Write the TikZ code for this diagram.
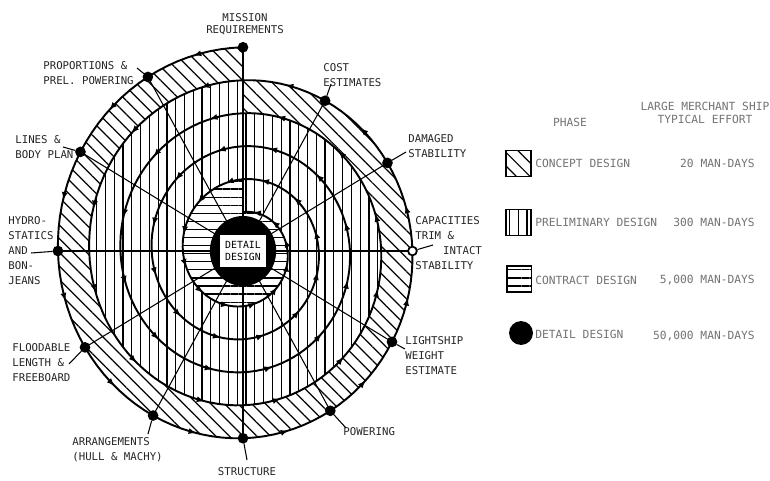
\documentclass[tikz,border=0pt]{standalone}
\usepackage{fontspec}
\setmonofont{DejaVu Sans Mono}
\usetikzlibrary{patterns.meta,decorations.markings,arrows.meta}

\newcommand{\lblfont}{\fontsize{6.1}{8.6}\selectfont\ttfamily}
\newcommand{\keyfont}{\fontsize{6.4}{7.2}\selectfont\ttfamily}

\tikzset{
  spiral/.style={line width=1.1pt, line cap=round},
  flow/.style={
    postaction={decorate},
    decoration={markings, mark=at position 0.5 with {\arrow{Latex[length=4.5pt,width=3.5pt]}}}
  },
  spoke/.style={line width=0.6pt},
  leader/.style={line width=0.6pt},
  milestone/.style={
    shape=circle,
    draw,
    line width=1pt,
    inner sep=0pt,
    minimum size=5pt
  },
  lbl/.style={font=\lblfont, align=left, inner sep=0pt, text=black!85},
  keytext/.style={font=\keyfont, inner sep=0pt, text=black!55},
  keybox/.style={draw, line width=0.9pt, minimum width=14pt, minimum height=15pt, inner sep=0pt},
}
\tikzset{
  concept/.style={preaction={fill=white}, pattern={Lines[angle=-45,distance=5.5pt,line width=0.7pt]}},
  prelim/.style={preaction={fill=white}, pattern={Lines[angle=90,distance=5pt,line width=0.7pt]}},
  contract/.style={preaction={fill=white}, pattern={Lines[angle=0,distance=4.6pt,line width=0.7pt]}},
  detailbox/.style={fill=white, minimum width=26pt, minimum height=18pt, inner sep=0.5pt,
    align=center, font=\fontsize{5.6}{6.4}\selectfont\ttfamily},
}

\begin{document}
\begin{tikzpicture}[x=0.02cm, y=-0.02cm, declare function={lapr(\t)=203.75-\t/360*33;}]
  \fill[white] (0,0) rectangle (770,480);

  % the spiral
  \begin{scope}[shift={(243,251)}, x=0.01894cm]
    \coordinate (hub) at (0,0);
    \path[concept] plot[domain=0:360, samples=90] ({-lapr(\x)*sin(\x)},{-lapr(\x)*cos(\x)}) -- cycle;
    \path[prelim] plot[domain=360:720, samples=90] ({-lapr(\x)*sin(\x)},{-lapr(\x)*cos(\x)}) -- cycle;
    \path[contract] plot[domain=1440:1800, samples=90] ({-lapr(\x)*sin(\x)},{-lapr(\x)*cos(\x)}) -- cycle;

    \foreach \k in {0,...,11}{
      \pgfmathsetmacro{\a}{30*\k}
      \coordinate (p\k) at ({-lapr(\a)*sin(\a)},{-lapr(\a)*cos(\a)});
      \draw[spoke] (hub) -- (p\k);
    }
    \foreach \a [evaluate=\a as \b using \a+30] in {0,30,...,1770}{
      \draw[spiral, flow] plot[domain=\a:\b, samples=10] ({-lapr(\x)*sin(\x)},{-lapr(\x)*cos(\x)});
    }

    \fill (hub) circle[radius=35];
    \node[detailbox] (detail) at (hub) {DETAIL\\DESIGN};

    \foreach \k in {0,...,11}{
      \ifnum\k=9 \def\dotfill{white}\else\def\dotfill{black}\fi
      \node[milestone, fill=\dotfill] (d\k) at (p\k) {};
    }
  \end{scope}

  % labels round the spiral
  \node[lbl, anchor=north, align=center] (mission) at (245,13) {MISSION\\[-1.5pt]REQUIREMENTS};
  \node[lbl, anchor=north west] (proportions) at (43,61) {PROPORTIONS \&\\PREL. POWERING};
  \node[lbl, anchor=north west] (lines) at (15,135) {LINES \&\\BODY PLAN};
  \node[lbl, anchor=north west] (hydro) at (8,216) {HYDRO-\\STATICS\\AND\\BON-\\JEANS};
  \node[lbl, anchor=north west] (floodable) at (12,343) {FLOODABLE\\LENGTH \&\\FREEBOARD};
  \node[lbl, anchor=north west] (arrangements) at (72,437) {ARRANGEMENTS\\(HULL \& MACHY)};
  \node[lbl, anchor=north] (structure) at (247,467) {STRUCTURE};
  \node[lbl, anchor=west] (powering) at (343,432) {POWERING};
  \node[lbl, anchor=north west] (lightship) at (405,336) {LIGHTSHIP\\WEIGHT\\ESTIMATE};
  \node[lbl, anchor=north west] (capacities) at (415,216) {CAPACITIES\\TRIM \&\\\hspace*{2.6em}INTACT\\STABILITY};
  \node[lbl, anchor=north west] (damaged) at (408,134) {DAMAGED\\STABILITY};
  \node[lbl, anchor=north west] (cost) at (323,63) {COST\\ESTIMATES};

  \foreach \k/\ex/\ey in {1/137/68, 2/63/147, 3/31/253, 4/69/364, 5/148/434, 6/247/460,
                          7/346/428, 8/405/349, 9/433/245, 10/406/152, 11/331/84}{
    \coordinate (e\k) at (\ex,\ey);
    \draw[leader] (d\k) -- (e\k);
  }

  % key
  \node[keytext] (phasehd) at (570,122) {PHASE};
  \node[keytext, align=center] (efforthd) at (705,113) {LARGE MERCHANT SHIP\\TYPICAL EFFORT};

  \node[keybox, concept] (kconcept) at (518.5,163.5) {};
  \node[keytext, anchor=west] (tconcept) at (535,163) {CONCEPT DESIGN};
  \node[keytext, anchor=east] (fconcept) at (755,163) {20 MAN-DAYS};

  \node[keybox, prelim] (kprelim) at (518.5,222.5) {};
  \node[keytext, anchor=west] (tprelim) at (535,222) {PRELIMINARY DESIGN};
  \node[keytext, anchor=east] (fprelim) at (755,222) {300 MAN-DAYS};

  \node[keybox, contract] (kcontract) at (519,279) {};
  \node[keytext, anchor=west] (tcontract) at (535,280) {CONTRACT DESIGN};
  \node[keytext, anchor=east] (fcontract) at (755,280) {5,000 MAN-DAYS};

  \node[shape=circle, fill, inner sep=0pt, minimum size=13.6pt] (kdetail) at (521,333) {};
  \node[keytext, anchor=west] (tdetail) at (535,334) {DETAIL DESIGN};
  \node[keytext, anchor=east] (fdetail) at (755,336) {50,000 MAN-DAYS};
\end{tikzpicture}
\end{document}
